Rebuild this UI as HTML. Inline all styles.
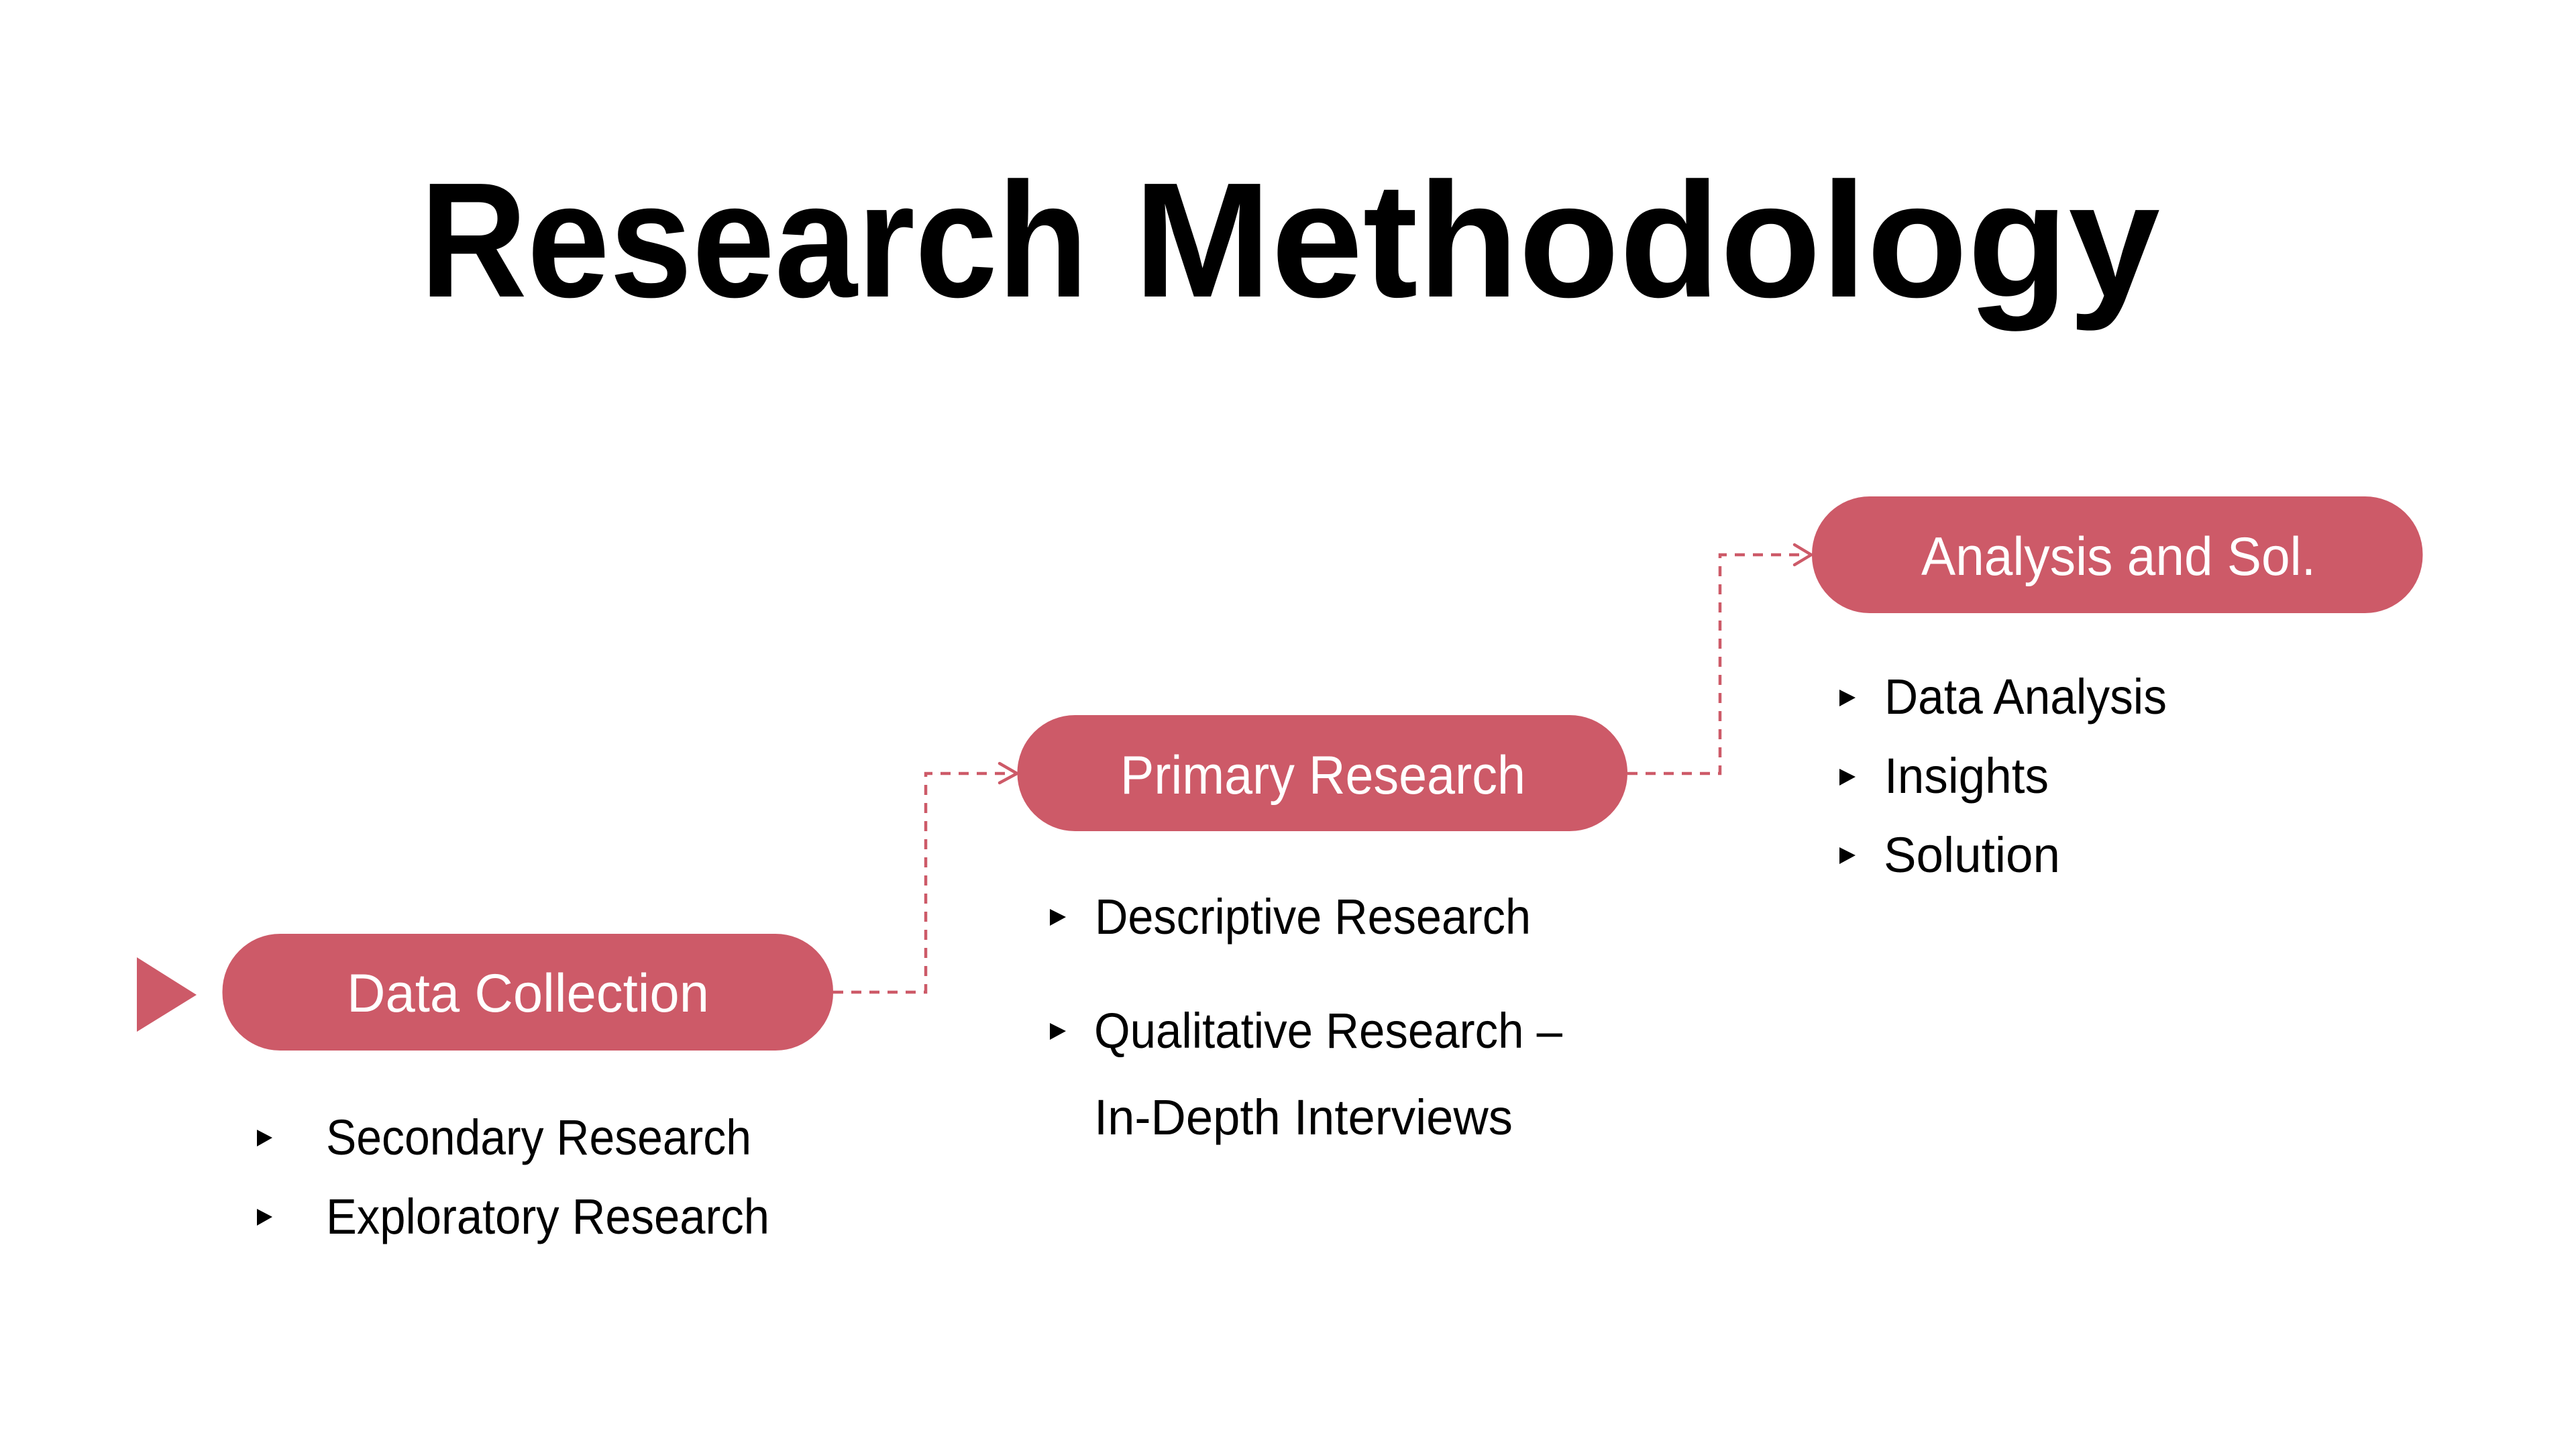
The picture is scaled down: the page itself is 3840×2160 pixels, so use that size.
<!DOCTYPE html>
<html lang="en">
<head>
<meta charset="utf-8">
<title>Research Methodology</title>
<style>
html,body{margin:0;padding:0;background:#fff;width:3840px;height:2160px;overflow:hidden}
svg{display:block}
text{font-family:"Liberation Sans",sans-serif}
.t{font-weight:700;font-size:244px;fill:#000}
.p{font-size:81px;fill:#fff}
.b{font-size:74px;fill:#000}
.c{fill:none;stroke:#CD5A68;stroke-width:4.5;stroke-dasharray:15 12}
.h{fill:none;stroke:#CD5A68;stroke-width:4.5;stroke-linecap:round;stroke-linejoin:round}
</style>
</head>
<body>
<svg width="3840" height="2160" viewBox="0 0 3840 2160" xmlns="http://www.w3.org/2000/svg">
<rect width="3840" height="2160" fill="#fff"/>
<text class="t" x="626" y="442" textLength="996" lengthAdjust="spacingAndGlyphs">Research</text>
<text class="t" x="1690" y="442" textLength="1530" lengthAdjust="spacingAndGlyphs">Methodology</text>

<polygon points="204,1427 293,1483 204,1538" fill="#CD5A68"/>

<path class="c" d="M1242 1479H1380V1153H1500"/>
<path class="h" d="M1490 1138L1516 1153L1490 1167"/>
<path class="c" d="M2426 1153H2564V827H2684"/>
<path class="h" d="M2675 812L2700 827L2675 842"/>

<rect x="331.5" y="1392" width="910.5" height="174" rx="86" ry="86" fill="#CD5A68"/>
<rect x="1516.5" y="1066" width="909.5" height="173" rx="86" ry="86" fill="#CD5A68"/>
<rect x="2701" y="740" width="910.5" height="174" rx="86" ry="86" fill="#CD5A68"/>

<text class="p" x="517" y="1508" textLength="540" lengthAdjust="spacingAndGlyphs">Data Collection</text>
<text class="p" x="1670" y="1183" textLength="604" lengthAdjust="spacingAndGlyphs">Primary Research</text>
<text class="p" x="2864" y="857" textLength="588" lengthAdjust="spacingAndGlyphs">Analysis and Sol.</text>

<polygon points="383,1684 406,1696 383,1709" fill="#000"/>
<polygon points="383,1802 406,1814 383,1827" fill="#000"/>
<text class="b" x="486" y="1721" textLength="634" lengthAdjust="spacingAndGlyphs">Secondary Research</text>
<text class="b" x="486" y="1839" textLength="661" lengthAdjust="spacingAndGlyphs">Exploratory Research</text>

<polygon points="1565,1355 1589,1367 1565,1380" fill="#000"/>
<polygon points="1565,1525 1589,1537 1565,1550" fill="#000"/>
<text class="b" x="1632" y="1392" textLength="650" lengthAdjust="spacingAndGlyphs">Descriptive Research</text>
<text class="b" x="1631" y="1562" textLength="698" lengthAdjust="spacingAndGlyphs">Qualitative Research –</text>
<text class="b" x="1631" y="1691" textLength="624" lengthAdjust="spacingAndGlyphs">In-Depth Interviews</text>

<polygon points="2742,1028 2766,1040 2742,1053" fill="#000"/>
<polygon points="2742,1146 2766,1158 2742,1171" fill="#000"/>
<polygon points="2742,1263 2766,1275 2742,1288" fill="#000"/>
<text class="b" x="2809" y="1064" textLength="421" lengthAdjust="spacingAndGlyphs">Data Analysis</text>
<text class="b" x="2809" y="1182" textLength="245" lengthAdjust="spacingAndGlyphs">Insights</text>
<text class="b" x="2808" y="1300" textLength="263" lengthAdjust="spacingAndGlyphs">Solution</text>
</svg>
</body>
</html>
